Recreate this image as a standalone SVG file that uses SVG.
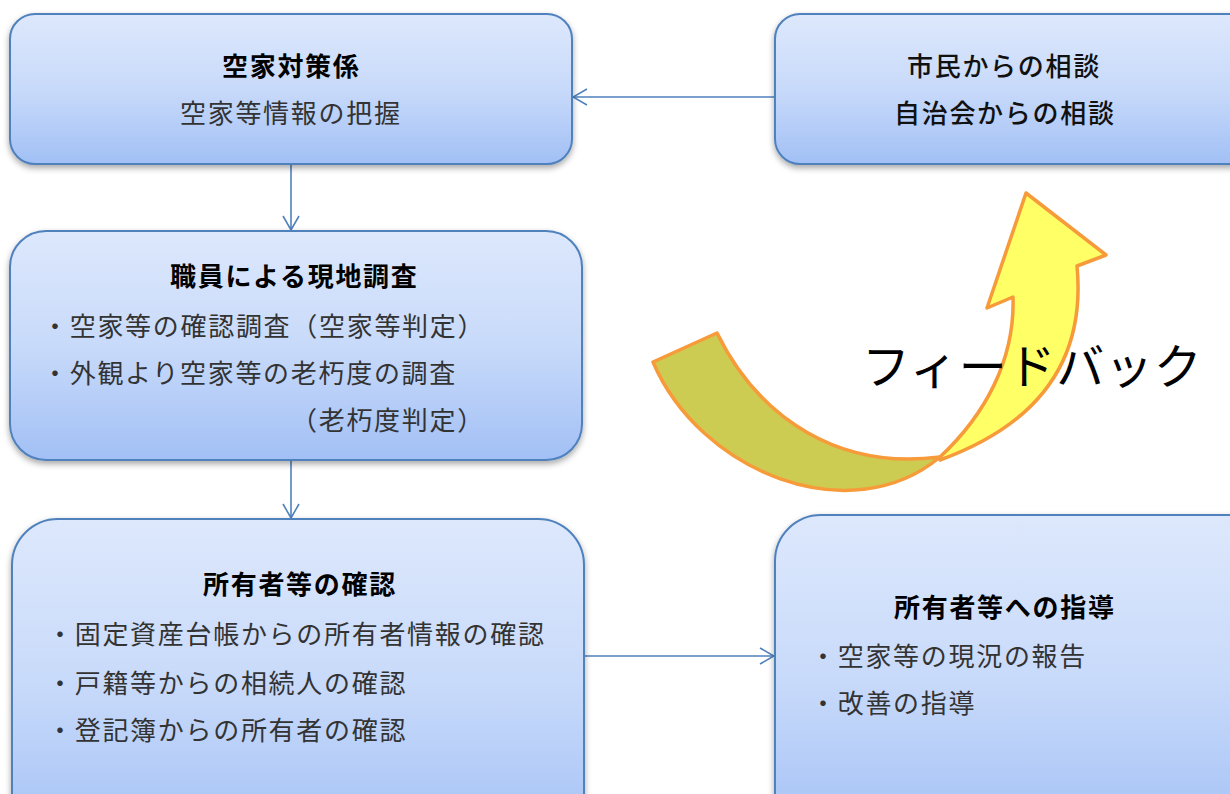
<svg xmlns="http://www.w3.org/2000/svg" width="1230" height="794" viewBox="0 0 1230 794">
<defs>
<linearGradient id="bg" x1="0" y1="0" x2="0" y2="1">
<stop offset="0" stop-color="#DDE8FC"/>
<stop offset="0.5" stop-color="#C8DAFA"/>
<stop offset="1" stop-color="#A2C0F5"/>
</linearGradient>
<filter id="sh" x="-10%" y="-10%" width="120%" height="130%">
<feDropShadow dx="0" dy="3" stdDeviation="3" flood-color="#000" flood-opacity="0.35"/>
</filter>
<marker id="ah" viewBox="0 0 16 18" refX="15" refY="9" markerWidth="16" markerHeight="18" markerUnits="userSpaceOnUse" orient="auto">
<path d="M1,1 L15,9 L1,17" fill="none" stroke="#4F81BD" stroke-width="1.6"/>
</marker>
<style>
.box{fill:url(#bg);stroke:#4F81BD;stroke-width:2;filter:url(#sh)}
.t{font-family:"Noto Sans CJK JP","Noto Sans CJK SC",sans-serif;font-size:26px;letter-spacing:1.7px;font-weight:bold;fill:#000}
.b{font-family:"Noto Sans CJK JP","Noto Sans CJK SC",sans-serif;font-size:26px;letter-spacing:1.7px;font-weight:normal;fill:#333}
.m{font-family:"Noto Sans CJK JP","Noto Sans CJK SC",sans-serif;font-size:26px;letter-spacing:1.7px;font-weight:500;fill:#111}
.c{fill:none;stroke:#4F81BD;stroke-width:1.6;marker-end:url(#ah)}
.fb{stroke:#F79A3A;stroke-width:3.5;stroke-linejoin:round}
</style>
</defs>
<rect width="1230" height="794" fill="#fff"/>

<g id="connectors">
<line class="c" x1="291" y1="164" x2="291" y2="230"/>
<line class="c" x1="291" y1="461" x2="291" y2="518"/>
<line class="c" x1="584" y1="656" x2="774" y2="656"/>
<line class="c" x1="775" y1="97" x2="573" y2="97"/>
</g>

<g id="node-akiya">
<rect class="box" x="10" y="14" width="562" height="150" rx="25"/>
<text class="t" x="222" y="76">空家対策係</text>
<text class="b" x="180" y="123">空家等情報の把握</text>
</g>

<g id="node-soudan">
<rect class="box" x="775" y="14" width="480" height="150" rx="25"/>
<text class="m" x="907" y="76">市民からの相談</text>
<text class="m" x="894" y="123">自治会からの相談</text>
</g>

<g id="node-chousa">
<rect class="box" x="10" y="231" width="572" height="229" rx="36"/>
<text class="t" x="170" y="286">職員による現地調査</text>
<text class="b" x="42" y="336">・空家等の確認調査（空家等判定）</text>
<text class="b" x="42" y="383">・外観より空家等の老朽度の調査</text>
<text class="b" x="291" y="430">（老朽度判定）</text>
</g>

<g id="node-kakunin">
<rect class="box" x="12" y="519" width="572" height="330" rx="46"/>
<text class="t" x="203" y="594">所有者等の確認</text>
<text class="b" x="47" y="644">・固定資産台帳からの所有者情報の確認</text>
<text class="b" x="47" y="693">・戸籍等からの相続人の確認</text>
<text class="b" x="47" y="740">・登記簿からの所有者の確認</text>
</g>

<g id="node-shidou">
<rect class="box" x="775" y="515" width="500" height="330" rx="46"/>
<text class="t" x="894" y="617">所有者等への指導</text>
<text class="b" x="810" y="666">・空家等の現況の報告</text>
<text class="b" x="810" y="713">・改善の指導</text>
</g>

<g id="feedback-arrow">
<path class="fb" fill="#CCCC52" d="M653,362 L717,333 C760,420 840,470 940,457 C850,532 700,472 653,362 Z"/>
<path class="fb" fill="#FFFF66" d="M940,457 C985,415 1015,360 1013,297 L987,308 L1026,193 L1106,255 L1077,266 C1085,350 1050,420 940,460 Z"/>
</g>

<g id="label-feedback">
<text x="862" y="384" style="font-family:'Noto Sans CJK JP','Noto Sans CJK SC',sans-serif;font-size:48px;letter-spacing:0.8px;fill:#000">フィードバック</text>
</g>
</svg>
